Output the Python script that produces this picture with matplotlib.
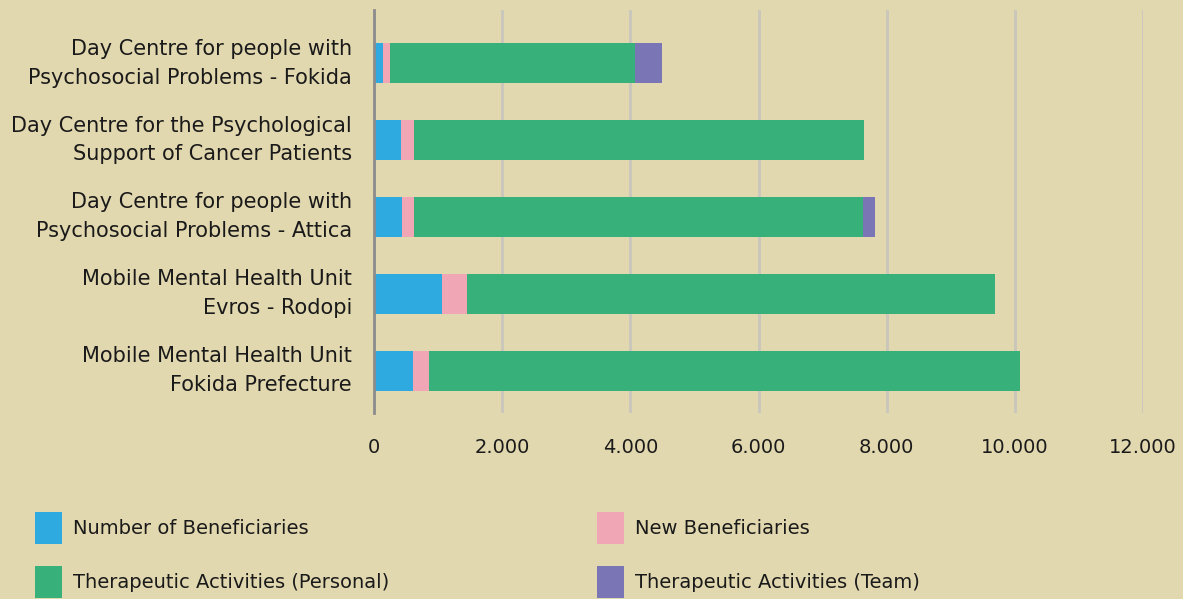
import matplotlib
matplotlib.use("Agg")
import matplotlib.pyplot as plt
import matplotlib.transforms as mtransforms
import numpy as np

categories = [
    "Day Centre for people with\nPsychosocial Problems - Fokida",
    "Day Centre for the Psychological\nSupport of Cancer Patients",
    "Day Centre for people with\nPsychosocial Problems - Attica",
    "Mobile Mental Health Unit\nEvros - Rodopi",
    "Mobile Mental Health Unit\nFokida Prefecture",
]
beneficiaries = [130, 420, 430, 1050, 610]
new_beneficiaries = [120, 200, 195, 400, 250]
therapeutic_personal = [3820, 7025, 7005, 8240, 9220]
therapeutic_team = [420, 0, 195, 0, 0]

series_names = ["Number of Beneficiaries", "New Beneficiaries",
                "Therapeutic Activities (Personal)", "Therapeutic Activities (Team)"]
colors = ["#2FAAE1", "#F0A6B4", "#37B179", "#7A76B6"]
x_ticks = [0, 2000, 4000, 6000, 8000, 10000, 12000]
x_ticklabels = ["0", "2.000", "4.000", "6.000", "8.000", "10.000", "12.000"]

bg = "#E2D8AF"
fig = plt.figure(figsize=(11.83, 5.99), dpi=100, facecolor=bg)
ax = fig.add_axes([0.3164, 0.3105, 0.6497, 0.6725], facecolor=bg)

y = np.arange(len(categories))
left = np.zeros(len(categories))
handles = []
for vals, c, name in zip([beneficiaries, new_beneficiaries, therapeutic_personal, therapeutic_team],
                         colors, series_names):
    b = ax.barh(y, vals, left=left, height=0.52, color=c, label=name, zorder=3)
    handles.append(b)
    left = left + np.array(vals)

ax.set_xlim(0, 12000)
ax.set_ylim(4.55, -0.69)
ax.set_yticks(y)
ax.set_yticklabels(categories, fontsize=15, linespacing=1.55, color="#1a1a1a")
ax.set_xticks(x_ticks)
ax.set_xticklabels(x_ticklabels, fontsize=14, color="#1a1a1a")
ax.tick_params(axis="both", length=0)
ax.tick_params(axis="y", pad=16)
ax.tick_params(axis="x", pad=18)
ax.grid(axis="x", color="#C9C6BC", linewidth=2, zorder=0)
for s in ["top", "right", "bottom"]:
    ax.spines[s].set_visible(False)
ax.spines["left"].set_color("#8C8C8C")
ax.spines["left"].set_linewidth(2)
ax.spines["left"].set_zorder(4)

shift = mtransforms.ScaledTranslation(0, 0.065, fig.dpi_scale_trans)
for lbl in ax.get_yticklabels():
    lbl.set_transform(lbl.get_transform() + shift)

order = [0, 2, 1, 3]
fig.legend([handles[i] for i in order], [series_names[i] for i in order],
           ncol=2, loc="upper left", bbox_to_anchor=(0.0144, 0.175),
           frameon=False, fontsize=14, handlelength=1.39, handleheight=2.2,
           handletextpad=0.57, columnspacing=10.7, labelspacing=1.1,
           labelcolor="#1a1a1a")

fig.savefig("out.png", dpi=100, facecolor=bg)
